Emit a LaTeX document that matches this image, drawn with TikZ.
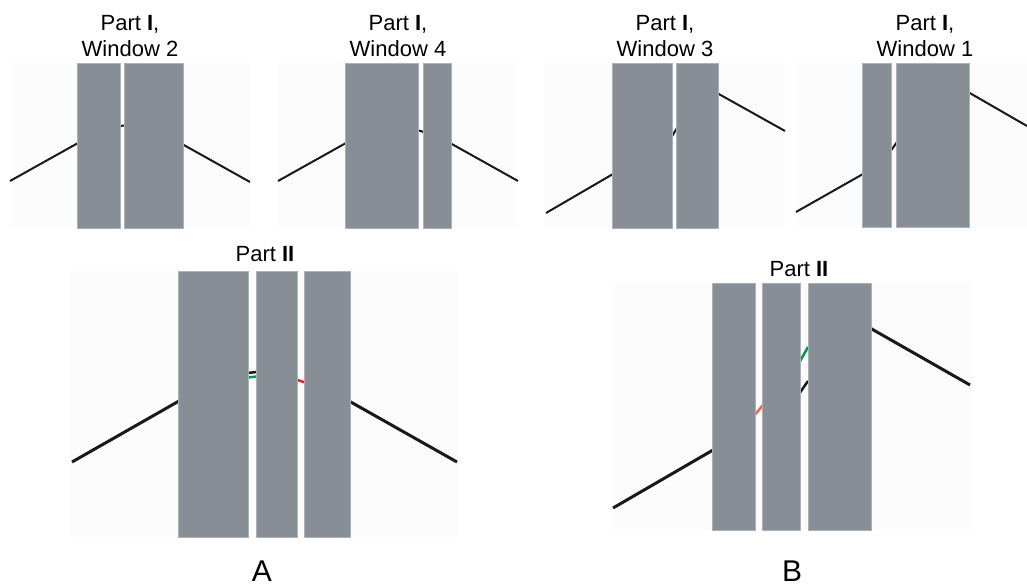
\documentclass[tikz,border=0pt]{standalone}
\usepackage{fontspec}
\setmainfont{Liberation Sans}
\definecolor{barfill}{RGB}{136,142,149}
\definecolor{baredge}{RGB}{170,178,188}
\definecolor{panelbg}{RGB}{252,252,252}
\definecolor{lineblk}{RGB}{25,25,25}
\definecolor{grn}{RGB}{0,150,80}
\definecolor{rd}{RGB}{230,35,35}
\definecolor{orng}{RGB}{240,100,70}
\begin{document}
\begin{tikzpicture}[x=1pt,y=-1pt,
  panel/.style={fill=panelbg,draw=none},
  bar/.style={fill=barfill,draw=baredge,line width=0.8pt},
  thin/.style={draw=lineblk,line width=2pt},
  thick/.style={draw=lineblk,line width=3pt},
  lbl/.style={font=\fontsize{22}{26}\selectfont,anchor=base,inner sep=0pt},
  big/.style={font=\fontsize{30}{36}\selectfont,anchor=base,inner sep=0pt,text depth=0pt}]
\useasboundingbox[fill=white] (0,0) rectangle (1027,587);

% ---------- Window 2 ----------
\fill[panel] (10,63) rectangle (250,228);
\draw[thin] (10,181) -- (78,143);
\draw[thin] (182,144) -- (250,182);
\draw[thin] (119,126) -- (125,125.5);
\draw[bar] (77,63) rectangle (120,228);
\draw[bar] (124,63) rectangle (183,228);
\node[lbl] (w2a) at (130,30) {Part \textbf{I},};
\node[lbl] (w2b) at (130,56) {Window 2};

% ---------- Window 4 ----------
\fill[panel] (278,63) rectangle (518,228);
\draw[thin] (278,181) -- (346,143);
\draw[thin] (450,143) -- (518,181);
\draw[thin] (417,130) -- (424,132);
\draw[bar] (345,63) rectangle (418,228);
\draw[bar] (423,63) rectangle (451,228);
\node[lbl] (w4a) at (398,30) {Part \textbf{I},};
\node[lbl] (w4b) at (398,56) {Window 4};

% ---------- Window 3 ----------
\fill[panel] (545,63) rectangle (785,228);
\draw[thin] (546,213) -- (613,174);
\draw[thin] (717,93) -- (785,131);
\draw[thin] (671,138) -- (677,128);
\draw[bar] (612,63) rectangle (672,228);
\draw[bar] (676,63) rectangle (718,228);
\node[lbl] (w3a) at (665,30) {Part \textbf{I},};
\node[lbl] (w3b) at (665,56) {Window 3};

% ---------- Window 1 ----------
\fill[panel] (796,63) rectangle (1027,227);
\draw[thin] (796,212) -- (863,174);
\draw[thin] (968,92) -- (1027,126);
\draw[thin] (890,152) -- (897,142);
\draw[bar] (862,63) rectangle (891,227);
\draw[bar] (896,63) rectangle (969,227);
\node[lbl] (w1a) at (925,30) {Part \textbf{I},};
\node[lbl] (w1b) at (925,56) {Window 1};

% ---------- Part II, A ----------
\fill[panel] (70,271) rectangle (458,537);
\draw[thick] (72,462) -- (179,401);
\draw[thick] (349,401) -- (457,462);
\draw[draw=lineblk,line width=2.5pt] (247,373) -- (257,372);
\draw[draw=grn,line width=2.5pt] (247,377.5) -- (257,376.5);
\draw[draw=rd,line width=2.5pt] (296,379.5) -- (305,382.5);
\draw[bar] (178,271) rectangle (248,537);
\draw[bar] (256,271) rectangle (297,537);
\draw[bar] (304,271) rectangle (350,537);
\node[lbl] (p2a) at (265,261) {Part \textbf{II}};

% ---------- Part II, B ----------
\fill[panel] (613,283) rectangle (972,530);
\draw[thick] (613,508) -- (713,450);
\draw[thick] (870,328) -- (970,385);
\draw[draw=orng,line width=2.5pt] (754,416) -- (763,405);
\draw[draw=grn,line width=2.5pt] (799,363) -- (808,347);
\draw[draw=lineblk,line width=2.5pt] (799,394) -- (808,381);
\draw[bar] (712,283) rectangle (755,530);
\draw[bar] (762,283) rectangle (800,530);
\draw[bar] (808,283) rectangle (871,530);
\node[lbl] (p2b) at (799,276) {Part \textbf{II}};

% ---------- A / B ----------
\node[big] (la) at (262,581) {A};
\node[big] (lb) at (792,581) {B};
\end{tikzpicture}
\end{document}
